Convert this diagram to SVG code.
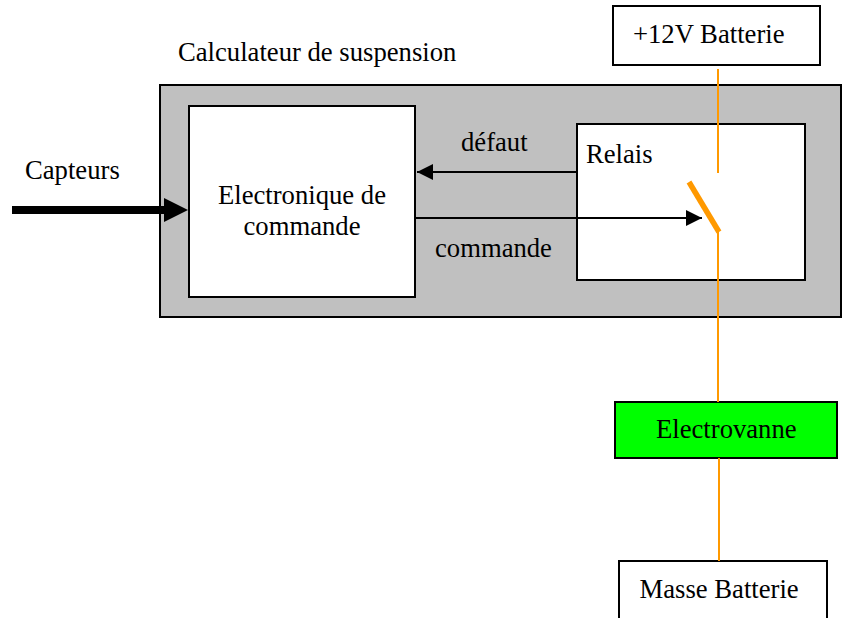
<svg xmlns="http://www.w3.org/2000/svg" width="847" height="618" viewBox="0 0 847 618">
<style>
text{font-family:"Liberation Serif","Times New Roman",serif;font-size:26.67px;fill:#000}
.box{stroke:#000;stroke-width:2;fill:#fff}
.wire{stroke:#f90;stroke-width:2;fill:none}
.sig{stroke:#000;stroke-width:2;fill:none}
</style>
<defs>
<marker id="a" markerUnits="userSpaceOnUse" markerWidth="16" markerHeight="16" refX="16" refY="8" orient="auto"><path d="M0 0L16 8L0 16Z" fill="#000"/></marker>
</defs>
<rect width="847" height="618" fill="#fff"/>
<g id="calculateur"><rect x="160" y="85" width="681" height="232" fill="#c0c0c0" stroke="#000" stroke-width="2"/></g>
<text x="178" y="61">Calculateur de suspension</text>
<g id="batterie"><rect class="box" x="613" y="6" width="207" height="59"/><text x="633" y="43">+12V Batterie</text></g>
<g id="electronique"><rect class="box" x="189" y="106" width="226" height="191"/><text x="302" y="204" text-anchor="middle">Electronique de</text><text x="302" y="235" text-anchor="middle">commande</text></g>
<g id="relais"><rect class="box" x="577" y="124" width="228" height="156"/><text x="586" y="163">Relais</text></g>
<g id="electrovanne"><rect x="615" y="402" width="222" height="56" fill="#0f0" stroke="#000" stroke-width="2"/><text x="656" y="438">Electrovanne</text></g>
<g id="masse"><path class="box" d="M619 618V561H827V618"/><text x="639.5" y="598">Masse Batterie</text></g>
<g id="connectors">
<path class="wire" d="M718 69V173M718 232V402M719 458V561"/>
<path d="M689 182L719 232" stroke="#f90" stroke-width="5.5" fill="none"/>
<path class="sig" d="M578 172H417" marker-end="url(#a)"/>
<path class="sig" d="M415 218H702" marker-end="url(#a)"/>
<path d="M12 210H166" stroke="#000" stroke-width="8" fill="none"/>
<path d="M164 198L188 210L164 222Z" fill="#000"/>
</g>
<text x="461" y="151">défaut</text>
<text x="435" y="257">commande</text>
<text x="25" y="179">Capteurs</text>
</svg>
